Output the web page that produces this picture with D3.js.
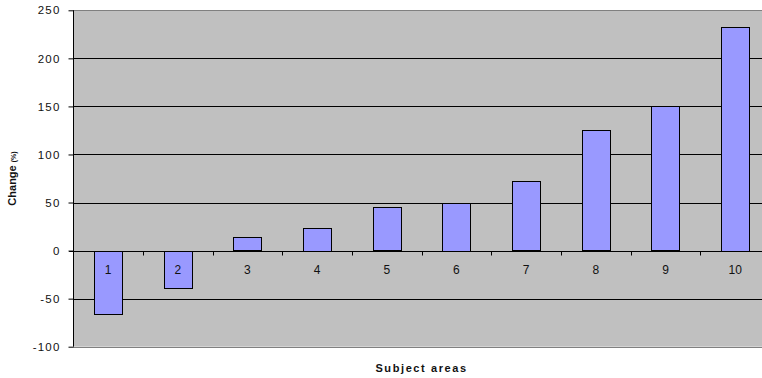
<!DOCTYPE html>
<html>
<head>
<meta charset="utf-8">
<script src="https://cdn.jsdelivr.net/npm/d3@7"></script>
<style>
  html, body { margin: 0; padding: 0; background: #fff; }
  svg { display: block; }
  text { font-family: "Liberation Sans", Arial, sans-serif; }
</style>
</head>
<body>
<svg id="chart" width="762" height="378"></svg>
<script>
// Percent change by subject area
const categories = ["1", "2", "3", "4", "5", "6", "7", "8", "9", "10"];
const changeValues = [-66, -38, 14, 24, 45, 50, 72, 125, 150, 233];
const yTicks = [-100, -50, 0, 50, 100, 150, 200, 250];

const svg = d3.select("#chart");
const plot = { left: 73.2, right: 770, top: 10.3, bottom: 346.7 };

const y = d3.scaleLinear().domain([-100, 250]).range([plot.bottom, plot.top]);
const x = d3.scaleBand()
  .domain(categories)
  .range([plot.left, plot.right])
  .paddingInner(0.598)
  .paddingOuter(0.299);
const step = x.step();
const crisp = v => Math.round(v) + 0.5;

// plot background
svg.append("rect")
  .attr("x", plot.left).attr("y", plot.top)
  .attr("width", plot.right - plot.left).attr("height", plot.bottom - plot.top)
  .attr("fill", "#c0c0c0");

// horizontal gridlines
svg.append("g").selectAll("line")
  .data(yTicks.filter(t => t !== 250 && t !== -100 && t !== 0))
  .join("line")
  .attr("x1", plot.left).attr("x2", plot.right)
  .attr("y1", d => crisp(y(d))).attr("y2", d => crisp(y(d)))
  .attr("stroke", "#000").attr("stroke-width", 1);

// plot frame (top and bottom)
svg.append("line")
  .attr("x1", plot.left).attr("x2", plot.right)
  .attr("y1", crisp(y(250))).attr("y2", crisp(y(250)))
  .attr("stroke", "#808080");
svg.append("line")
  .attr("x1", plot.left).attr("x2", plot.right)
  .attr("y1", crisp(y(-100))).attr("y2", crisp(y(-100)))
  .attr("stroke", "#808080");

// bars
svg.append("g").selectAll("rect")
  .data(categories.map((c, i) => ({ c, v: changeValues[i] })))
  .join("rect")
  .attr("x", d => Math.round(x(d.c)) + 0.5)
  .attr("width", Math.round(x.bandwidth()))
  .attr("y", d => Math.round(y(Math.max(0, d.v))) + 0.5)
  .attr("height", d => Math.round(Math.abs(y(d.v) - y(0))))
  .attr("fill", "#9999ff")
  .attr("stroke", "#000")
  .attr("stroke-width", 1);

// zero line (category axis)
const y0 = crisp(y(0));
svg.append("line")
  .attr("x1", plot.left - 4).attr("x2", plot.right)
  .attr("y1", y0).attr("y2", y0)
  .attr("stroke", "#000");

// category ticks at band boundaries
svg.append("g").selectAll("line")
  .data(d3.range(1, categories.length))
  .join("line")
  .attr("x1", i => crisp(plot.left + i * step)).attr("x2", i => crisp(plot.left + i * step))
  .attr("y1", y0).attr("y2", y0 + 4)
  .attr("stroke", "#000");

// category labels
svg.append("g").selectAll("text")
  .data(categories)
  .join("text")
  .attr("x", d => x(d) + x.bandwidth() / 2)
  .attr("y", y(0) + 23)
  .attr("text-anchor", "middle")
  .attr("font-size", 12)
  .attr("fill", "#111")
  .text(d => d);

// value axis (plain hyphen for negatives)
const yAxis = d3.axisLeft(y).tickValues(yTicks).tickSize(5).tickPadding(8).tickFormat(d => String(d));
const ag = svg.append("g")
  .attr("transform", `translate(${crisp(plot.left)},0)`)
  .call(yAxis);
ag.select(".domain").attr("stroke", "#000").attr("d", `M0,${y(250)}V${y(-100)}`);
ag.selectAll(".tick line").attr("stroke", "#000");
ag.selectAll(".tick text")
  .attr("font-family", "\"Liberation Sans\", Arial, sans-serif")
  .attr("font-size", 11.5)
  .attr("letter-spacing", 1.2)
  .attr("fill", "#111");

// axis titles
const yTitle = svg.append("text")
  .attr("transform", `translate(16,${(plot.top + plot.bottom) / 2}) rotate(-90)`)
  .attr("text-anchor", "middle")
  .attr("font-size", 11)
  .attr("font-weight", "bold")
  .attr("fill", "#111");
yTitle.append("tspan").text("Change ");
yTitle.append("tspan").attr("font-size", 7).text("(%)");

svg.append("text")
  .attr("x", (plot.left + plot.right) / 2)
  .attr("y", 372)
  .attr("text-anchor", "middle")
  .attr("font-size", 11)
  .attr("font-weight", "bold")
  .attr("letter-spacing", 1.6)
  .attr("fill", "#111")
  .text("Subject areas");
</script>
</body>
</html>
